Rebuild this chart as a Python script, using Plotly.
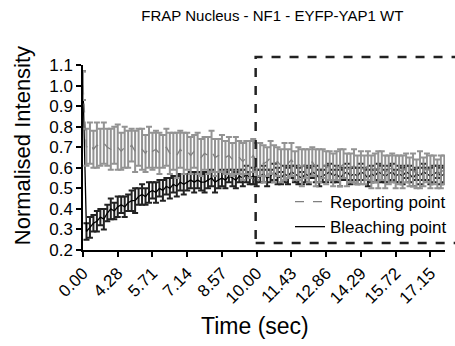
import plotly.graph_objects as go

# sample index along the time axis (ticks every 10 samples)
sample_idx = list(range(105))
tick_idx = [0, 10, 20, 30, 40, 50, 60, 70, 80, 90, 100]
tick_labels = ["0.00", "4.28", "5.71", "7.14", "8.57", "10.00", "11.43", "12.86", "14.29", "15.72", "17.15"]

bleach_mean = [
    1.00,
    0.29, 0.31, 0.33, 0.34, 0.36, 0.35, 0.38, 0.40, 0.39, 0.41,
    0.42, 0.41, 0.43, 0.44, 0.44, 0.46, 0.47, 0.46, 0.48, 0.49,
    0.48, 0.50, 0.49, 0.51, 0.50, 0.52, 0.51, 0.53, 0.52, 0.53,
    0.54, 0.53, 0.54, 0.53, 0.53, 0.54, 0.55, 0.53, 0.54, 0.55,
    0.54, 0.56, 0.55, 0.54, 0.56, 0.55, 0.57, 0.55, 0.56, 0.55,
    0.56, 0.57, 0.55, 0.56, 0.58, 0.56, 0.55, 0.57, 0.56, 0.58,
    0.57, 0.56, 0.55, 0.57, 0.56, 0.58, 0.57, 0.55, 0.56, 0.57,
    0.58, 0.56, 0.57, 0.55, 0.57, 0.58, 0.56, 0.57, 0.56, 0.58,
    0.57, 0.55, 0.57, 0.56, 0.58, 0.57, 0.56, 0.57, 0.58, 0.56,
    0.57, 0.56, 0.58, 0.57, 0.55, 0.57, 0.56, 0.58, 0.57, 0.56,
    0.57, 0.58, 0.56, 0.57,
]
bleach_err = [
    0.07,
    0.04, 0.05, 0.04, 0.05, 0.04, 0.05, 0.04, 0.05, 0.04, 0.05,
    0.04, 0.05, 0.04, 0.05, 0.06, 0.04, 0.05, 0.04, 0.05, 0.04,
    0.05, 0.04, 0.05, 0.04, 0.05, 0.04, 0.05, 0.04, 0.05, 0.04,
    0.04, 0.05, 0.04, 0.04, 0.05, 0.04, 0.04, 0.05, 0.04, 0.04,
    0.04, 0.03, 0.04, 0.04, 0.03, 0.04, 0.04, 0.03, 0.04, 0.04,
    0.03, 0.04, 0.04, 0.03, 0.04, 0.04, 0.03, 0.04, 0.04, 0.03,
    0.04, 0.04, 0.03, 0.04, 0.04, 0.03, 0.04, 0.04, 0.03, 0.04,
    0.04, 0.03, 0.04, 0.04, 0.03, 0.04, 0.04, 0.03, 0.04, 0.04,
    0.03, 0.04, 0.04, 0.03, 0.04, 0.04, 0.03, 0.04, 0.04, 0.03,
    0.04, 0.04, 0.03, 0.04, 0.04, 0.03, 0.04, 0.04, 0.03, 0.04,
    0.04, 0.03, 0.04, 0.04,
]
report_mean = [
    1.00,
    0.70, 0.72, 0.69, 0.71, 0.70, 0.72, 0.70, 0.69, 0.71, 0.70,
    0.68, 0.70, 0.69, 0.71, 0.68, 0.70, 0.69, 0.67, 0.70, 0.68,
    0.69, 0.67, 0.68, 0.70, 0.67, 0.68, 0.66, 0.69, 0.67, 0.68,
    0.66, 0.68, 0.67, 0.65, 0.67, 0.66, 0.68, 0.65, 0.66, 0.67,
    0.65, 0.66, 0.64, 0.66, 0.65, 0.63, 0.65, 0.64, 0.66, 0.63,
    0.64, 0.62, 0.63, 0.65, 0.62, 0.63, 0.61, 0.63, 0.62, 0.64,
    0.61, 0.62, 0.60, 0.62, 0.61, 0.63, 0.60, 0.61, 0.62, 0.60,
    0.61, 0.59, 0.61, 0.60, 0.62, 0.59, 0.60, 0.61, 0.59, 0.60,
    0.59, 0.61, 0.58, 0.60, 0.59, 0.61, 0.58, 0.59, 0.60, 0.58,
    0.59, 0.58, 0.60, 0.58, 0.59, 0.57, 0.59, 0.58, 0.60, 0.58,
    0.59, 0.57, 0.58, 0.59,
]
report_err = [
    0.07,
    0.09, 0.10, 0.09, 0.11, 0.09, 0.10, 0.09, 0.10, 0.09, 0.11,
    0.09, 0.10, 0.09, 0.08, 0.10, 0.09, 0.10, 0.09, 0.10, 0.09,
    0.09, 0.10, 0.08, 0.09, 0.10, 0.09, 0.11, 0.09, 0.10, 0.09,
    0.09, 0.08, 0.10, 0.09, 0.08, 0.09, 0.10, 0.09, 0.08, 0.09,
    0.08, 0.09, 0.08, 0.09, 0.08, 0.09, 0.08, 0.09, 0.08, 0.09,
    0.08, 0.09, 0.07, 0.08, 0.09, 0.07, 0.08, 0.09, 0.07, 0.08,
    0.07, 0.08, 0.09, 0.07, 0.08, 0.07, 0.09, 0.08, 0.07, 0.08,
    0.07, 0.08, 0.07, 0.09, 0.07, 0.08, 0.07, 0.08, 0.07, 0.08,
    0.07, 0.07, 0.08, 0.07, 0.09, 0.07, 0.08, 0.07, 0.07, 0.08,
    0.07, 0.08, 0.07, 0.07, 0.08, 0.07, 0.09, 0.07, 0.07, 0.08,
    0.07, 0.07, 0.08, 0.07,
]

FONT = "Arial, Liberation Sans, sans-serif"
L, R, T, B = 83, 3, 65, 96
PW, PH = 455 - L - R, 346 - T - B

fig = go.Figure()
fig.add_trace(go.Scatter(
    x=sample_idx, y=bleach_mean, name="Bleaching point", mode="lines",
    line=dict(color="#000000", width=1.3),
    error_y=dict(type="data", array=bleach_err, color="#222222", thickness=2, width=3),
))
fig.add_trace(go.Scatter(
    x=sample_idx, y=report_mean, name="Reporting point", mode="lines",
    line=dict(color="#808080", width=1.3, dash="dash"),
    error_y=dict(type="data", array=report_err, color="#939393", thickness=2, width=3),
))

fig.add_shape(type="rect", xref="paper", yref="paper",
              x0=(259 - L) / PW, x1=1.05, y0=(250 - 243) / PH, y1=(250 - 57) / PH,
              line=dict(color="#222222", width=2.5, dash="dash"), layer="above")

fig.add_annotation(text="Normalised Intensity", xref="paper", yref="paper",
                   x=(21 - L) / PW, y=(250 - 146) / PH, xanchor="center", yanchor="middle",
                   textangle=-90, showarrow=False, font=dict(size=22, family=FONT))
fig.add_annotation(text="Time (sec)", xref="paper", yref="paper",
                   x=(258 - L) / PW, y=(250 - 326) / PH, xanchor="center", yanchor="middle",
                   showarrow=False, font=dict(size=23, family=FONT))

fig.update_layout(
    width=455, height=346,
    margin=dict(l=L, r=R, t=T, b=B),
    paper_bgcolor="white", plot_bgcolor="white",
    font=dict(family=FONT, color="#000000", size=17),
    title=dict(text="FRAP Nucleus - NF1 - EYFP-YAP1 WT", x=(276 - L) / PW, xref="paper",
               xanchor="center", y=1 - 16 / 346, yanchor="middle",
               font=dict(size=15, family=FONT)),
    showlegend=True,
    legend=dict(x=(294 - L) / PW, y=(250 - 184) / PH, xanchor="left", yanchor="top",
                traceorder="reversed", bgcolor="rgba(0,0,0,0)",
                font=dict(size=17, family=FONT), itemwidth=30, tracegroupgap=0),
    xaxis=dict(range=[0, 104.2], tickmode="array", tickvals=tick_idx, ticktext=tick_labels,
               tickangle=-45, ticks="outside", ticklen=5, tickwidth=1.5, tickcolor="#000",
               showline=True, linecolor="#000", linewidth=1.5, showgrid=False, zeroline=False,
               tickfont=dict(size=17), automargin=False),
    yaxis=dict(range=[0.2, 1.1], dtick=0.1, tick0=0.2, tickformat=".1f",
               ticks="outside", ticklen=5, tickwidth=1.5, tickcolor="#000",
               showline=True, linecolor="#000", linewidth=1.5, showgrid=False, zeroline=False,
               tickfont=dict(size=17), automargin=False),
)

fig.write_html("out.html")
